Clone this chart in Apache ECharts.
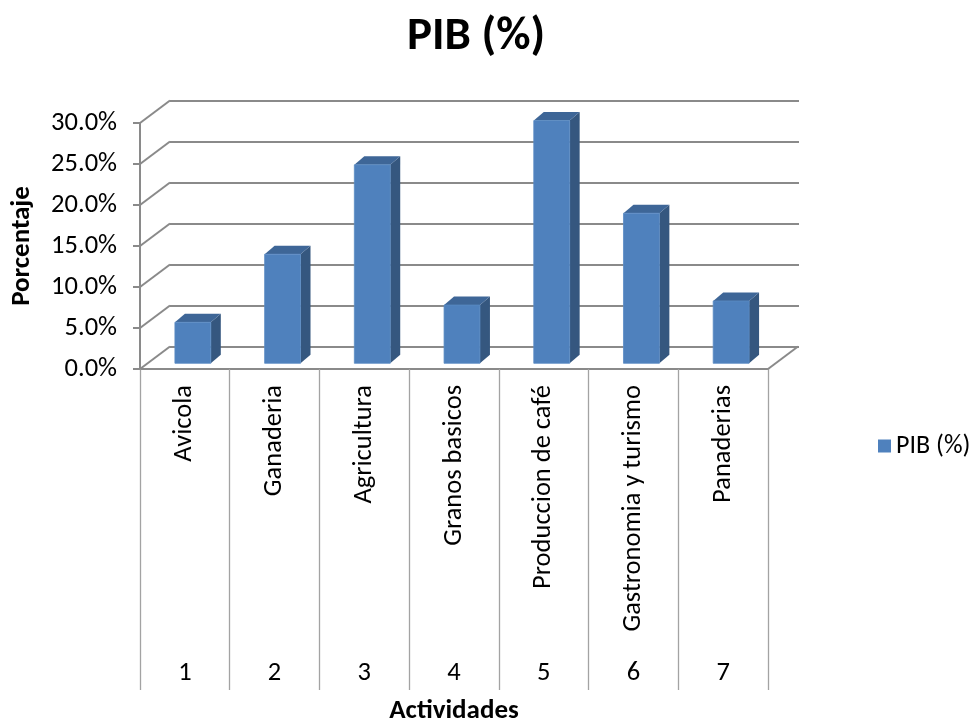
<!DOCTYPE html>
<html>
<head>
<meta charset="utf-8">
<script src="https://cdn.jsdelivr.net/npm/echarts@6/dist/echarts.min.js"></script>
<style>
  html, body { margin: 0; padding: 0; background: #ffffff; }
  #chart { width: 969px; height: 721px; }
</style>
</head>
<body>
<div id="chart"></div>
<script>
// Activity names and their sequence numbers
const CATEGORIES = ['Avicola', 'Ganaderia', 'Agricultura', 'Granos basicos', 'Produccion de café', 'Gastronomia y turismo', 'Panaderias'];
const CATEGORY_NUMBERS = ['1', '2', '3', '4', '5', '6', '7'];
// Share of GDP per activity, in percent
const PIB_VALUES = [5.0, 13.3, 24.2, 7.1, 29.6, 18.3, 7.6];
// Value-axis ticks, in percent
const Y_TICKS = [0, 5, 10, 15, 20, 25, 30];
const SERIES_NAME = 'PIB (%)';

const FONT = 'Carlito, Lato, sans-serif';
const GRID_LINE = '#8a8a8a';
const FRONT = '#4f81bd';
const SIDE = '#35577f';
const TOP = '#3e6697';

// depth of the wall behind the front plane, and depth of each column
const WALL_DX = 30, WALL_DY = -22.5;
const BAR_DX = 10, BAR_DY = -8.5;
const BAR_RATIO = 0.4;

const chart = echarts.init(document.getElementById('chart'), null, { renderer: 'canvas' });

const yMin = Y_TICKS[0], yMax = Y_TICKS[Y_TICKS.length - 1], yStep = Y_TICKS[1] - Y_TICKS[0];

// diagonal edges joining the front axis to the back wall
function renderDepthEdges(params, api) {
  const v = api.value(1);
  const p = api.coord([0, v]);
  const band = api.size([1, 0])[0];
  const left = p[0] - band / 2;
  const children = [{
    type: 'line',
    shape: { x1: left, y1: p[1], x2: left + WALL_DX, y2: p[1] + WALL_DY },
    style: { stroke: GRID_LINE, lineWidth: 2 }
  }];
  if (v === yMin) {
    const right = left + band * CATEGORIES.length;
    children.push({
      type: 'line',
      shape: { x1: right, y1: p[1], x2: right + WALL_DX, y2: p[1] + WALL_DY },
      style: { stroke: GRID_LINE, lineWidth: 2 }
    });
  }
  return { type: 'group', children };
}

// column drawn as a box: front face, right side and top
function renderColumn(params, api) {
  const idx = api.value(0);
  const base = api.coord([idx, 0]);
  const top = api.coord([idx, api.value(1)]);
  const band = api.size([1, 0])[0];
  const w = band * BAR_RATIO;
  const x0 = base[0] - w / 2, x1 = base[0] + w / 2;
  const yb = base[1], yt = top[1];
  return {
    type: 'group',
    children: [
      {
        type: 'polygon',
        shape: { points: [[x1, yt], [x1 + BAR_DX, yt + BAR_DY], [x1 + BAR_DX, yb + BAR_DY], [x1, yb]] },
        style: { fill: SIDE }
      },
      {
        type: 'polygon',
        shape: { points: [[x0, yt], [x0 + BAR_DX, yt + BAR_DY], [x1 + BAR_DX, yt + BAR_DY], [x1, yt]] },
        style: { fill: TOP }
      },
      {
        type: 'rect',
        shape: { x: x0, y: yt, width: w, height: yb - yt },
        style: { fill: FRONT, stroke: '#5b8bc4', lineWidth: 0.8 }
      }
    ]
  };
}

const option = {
  backgroundColor: '#ffffff',
  animation: false,
  textStyle: { fontFamily: FONT, color: '#000' },
  title: {
    text: 'PIB (%)',
    left: 471,
    textAlign: 'center',
    top: 9,
    textStyle: { fontFamily: FONT, fontSize: 47, fontWeight: 'bold', color: '#000' }
  },
  legend: {
    data: [SERIES_NAME],
    left: 873,
    top: 428,
    icon: 'rect',
    itemWidth: 13,
    itemHeight: 13,
    itemGap: 8,
    textStyle: { fontFamily: FONT, fontSize: 26, color: '#000' }
  },
  grid: [
    { left: 140, top: 123, width: 628, height: 246, outerBoundsMode: 'none', containLabel: false },   // front plane
    { left: 170, top: 100.5, width: 629, height: 246, outerBoundsMode: 'none', containLabel: false }, // back wall
    { left: 148, top: 117.3, width: 628, height: 246, outerBoundsMode: 'none', containLabel: false }  // column plane
  ],
  xAxis: [
    {
      gridIndex: 0,
      type: 'category',
      data: CATEGORIES,
      axisLine: { show: true, lineStyle: { color: GRID_LINE, width: 2 } },
      axisTick: { show: true, interval: 0, length: 321, lineStyle: { color: '#a3a3a3', width: 1.3 } },
      axisLabel: { interval: 0, rotate: 90, margin: 16, fontSize: 26.5, color: '#000', fontFamily: FONT },
      name: 'Actividades',
      nameLocation: 'middle',
      nameGap: 329,
      nameTextStyle: { fontFamily: FONT, fontSize: 27, fontWeight: 'bold', color: '#000' }
    },
    {
      gridIndex: 0,
      type: 'category',
      position: 'bottom',
      offset: 290,
      data: CATEGORY_NUMBERS,
      axisLine: { show: false },
      axisTick: { show: false },
      axisLabel: { interval: 0, margin: 1, fontSize: 26.5, color: '#000', fontFamily: FONT }
    },
    { gridIndex: 1, type: 'category', data: CATEGORIES, show: false },
    { gridIndex: 2, type: 'category', data: CATEGORIES, show: false }
  ],
  yAxis: [
    {
      gridIndex: 0,
      type: 'value',
      min: yMin, max: yMax, interval: yStep,
      axisLine: { show: true, lineStyle: { color: GRID_LINE, width: 2 } },
      axisTick: { show: true, length: 7, lineStyle: { color: GRID_LINE, width: 2 } },
      splitLine: { show: false },
      axisLabel: { margin: 23, fontSize: 26.5, color: '#000', fontFamily: FONT, formatter: v => v.toFixed(1) + '%' },
      name: 'Porcentaje',
      nameLocation: 'middle',
      nameRotate: 90,
      nameGap: 104,
      nameTextStyle: { fontFamily: FONT, fontSize: 27, fontWeight: 'bold', color: '#000' }
    },
    {
      gridIndex: 1,
      type: 'value',
      min: yMin, max: yMax, interval: yStep,
      axisLine: { show: false },
      axisTick: { show: false },
      axisLabel: { show: false },
      splitLine: { show: true, lineStyle: { color: GRID_LINE, width: 2 } }
    },
    { gridIndex: 2, type: 'value', min: yMin, max: yMax, interval: yStep, show: false, splitLine: { show: false } }
  ],
  series: [
    {
      type: 'custom',
      name: 'depth',
      xAxisIndex: 0,
      yAxisIndex: 0,
      silent: true,
      renderItem: renderDepthEdges,
      encode: { x: 0, y: 1 },
      data: Y_TICKS.map(v => [0, v]),
      z: 1
    },
    {
      type: 'custom',
      name: SERIES_NAME,
      xAxisIndex: 3,
      yAxisIndex: 2,
      renderItem: renderColumn,
      itemStyle: { color: FRONT },
      encode: { x: 0, y: 1 },
      data: PIB_VALUES.map((v, i) => [i, v]),
      z: 3
    }
  ]
};

chart.setOption(option);
</script>
</body>
</html>
